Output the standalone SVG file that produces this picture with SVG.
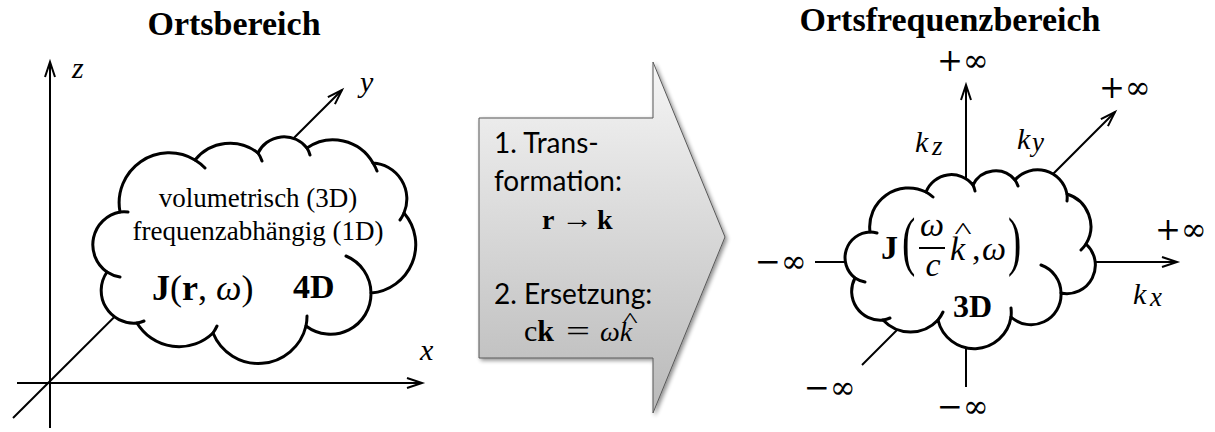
<svg xmlns="http://www.w3.org/2000/svg" width="1215" height="432" viewBox="0 0 1215 432">
<defs>
<style>
.title{font-family:"Liberation Serif",serif;font-weight:bold;font-size:34px;fill:#000}
.serif{font-family:"Liberation Serif",serif;fill:#000}
.it{font-style:italic}
.b{font-weight:bold}
.inf{font-family:"DejaVu Serif",serif;font-size:31px;fill:#000}
.cal{font-family:Lato,"Open Sans",sans-serif;font-size:28px;fill:#000}
.axis{stroke:#000;stroke-width:2;fill:none}
.cloud{fill:#fff;stroke:#000;stroke-width:3;stroke-linejoin:round}
.tail{fill:none;stroke:#000;stroke-width:3;stroke-linecap:round}
</style>
<marker id="ah" markerWidth="20" markerHeight="14" refX="16" refY="6" orient="auto" markerUnits="userSpaceOnUse">
<path d="M1,1 L16,6 L1,11" fill="none" stroke="#000" stroke-width="2"/>
</marker>
<linearGradient id="g" x1="0" y1="0" x2="0" y2="1">
<stop offset="0" stop-color="#f5f5f5"/>
<stop offset="1" stop-color="#b9b9b9"/>
</linearGradient>
<filter id="sh" x="-10%" y="-10%" width="130%" height="130%">
<feGaussianBlur in="SourceAlpha" stdDeviation="2"/>
<feOffset dx="2" dy="2"/>
<feComponentTransfer><feFuncA type="linear" slope="0.45"/></feComponentTransfer>
<feMerge><feMergeNode/><feMergeNode in="SourceGraphic"/></feMerge>
</filter>
</defs>
<rect width="1215" height="432" fill="#fff"/>

<g id="connectors">
<line class="axis" x1="50" y1="428" x2="50" y2="62" marker-end="url(#ah)"/>
<line class="axis" x1="17" y1="383" x2="422" y2="383" marker-end="url(#ah)"/>
<line class="axis" x1="13" y1="418" x2="342" y2="90" marker-end="url(#ah)"/>
<line class="axis" x1="966" y1="387" x2="966" y2="85" marker-end="url(#ah)"/>
<line class="axis" x1="815" y1="262" x2="1177" y2="262" marker-end="url(#ah)"/>
<line class="axis" x1="862" y1="365" x2="1115" y2="112" marker-end="url(#ah)"/>
</g>

<g id="title-left"><text class="title" x="234" y="35" text-anchor="middle">Ortsbereich</text></g>
<g id="title-right"><text class="title" x="950" y="31" text-anchor="middle">Ortsfrequenzbereich</text></g>

<g id="labels-left">
<text class="serif it" x="72" y="78" font-size="30">z</text>
<text class="serif it" x="360" y="92" font-size="30">y</text>
<text class="serif it" x="420" y="360" font-size="30">x</text>
</g>

<g id="cloud-left">
<path class="cloud" d="M120,212 A50,50 0 0 1 195,160 A45,45 0 0 1 258,153 A29,29 0 0 1 307,148 A46,46 0 0 1 373,163 A36,36 0 0 1 404,213 A48.5,48.5 0 0 1 371,293 A40.5,40.5 0 0 1 306,326 A49,49 0 0 1 213,333 A49,49 0 0 1 137,323 A32.6,32.6 0 0 1 107,272 A33.3,33.3 0 0 1 120,212 Z"/>
<path class="tail" d="M120,212 A33,33 0 0 1 128,212 M195,160 A50,50 0 0 1 205,168 M258,153 A30,30 0 0 1 262,161 M307,148 A29,29 0 0 1 310,155 M373,163 A46,46 0 0 1 377,171 M404,213 A36,36 0 0 1 400,220 M346,256 A40.5,40.5 0 0 1 371,293 M307,316 A49,49 0 0 1 306,326 M217,326 A49,49 0 0 1 213,333 M144,321 A32.6,32.6 0 0 1 137,323 M120,277 A33.3,33.3 0 0 1 107,272"/>
<text class="serif" x="258" y="207" font-size="27" text-anchor="middle">volumetrisch (3D)</text>
<text class="serif" x="258" y="240" font-size="27" text-anchor="middle">frequenzabhängig (1D)</text>
<text class="serif" x="152" y="300" font-size="36"><tspan font-weight="bold">J</tspan>(<tspan font-weight="bold">r</tspan>, <tspan font-style="italic">ω</tspan>)</text>
<text class="serif b" x="293" y="298" font-size="34">4D</text>
</g>

<g id="transform-arrow">
<polygon points="479,118 653,118 653,62 725,237 653,413 653,358 479,358" fill="url(#g)" stroke="#595959" stroke-width="1" filter="url(#sh)"/>
<text class="cal" x="494" y="153">1. Trans-</text>
<text class="cal" x="494" y="191">formation:</text>
<text class="serif b" x="542" y="229" font-size="28">r</text>
<text class="serif" x="561" y="228" font-size="28" textLength="32" lengthAdjust="spacingAndGlyphs">→</text>
<text class="serif b" x="597" y="229" font-size="28">k</text>
<text class="cal" x="494" y="304">2. Ersetzung:</text>
<text class="serif" x="524" y="341" font-size="30">c<tspan font-weight="bold">k</tspan></text>
<text class="serif" x="566" y="341" font-size="30" textLength="24" lengthAdjust="spacingAndGlyphs">=</text>
<text class="serif it" x="600" y="341" font-size="28">ωk</text>
<text class="serif" transform="translate(630,327) scale(1.35,0.9)" font-size="24" text-anchor="middle">^</text>
</g>

<g id="labels-right">
<text class="inf" x="963" y="71" text-anchor="middle">+∞</text>
<text class="inf" x="1125" y="98" text-anchor="middle">+∞</text>
<text class="inf" x="1181" y="240" text-anchor="middle">+∞</text>
<text class="inf" x="781" y="272" text-anchor="middle">−∞</text>
<text class="inf" x="830" y="398" text-anchor="middle">−∞</text>
<text class="inf" x="963" y="417" text-anchor="middle">−∞</text>
<text class="serif it" x="915" y="152" font-size="30">k</text>
<text class="serif it" x="932" y="155" font-size="27">z</text>
<text class="serif it" x="1017" y="149" font-size="30">k</text>
<text class="serif it" x="1032" y="151" font-size="27">y</text>
<text class="serif it" x="1133" y="304" font-size="30">k</text>
<text class="serif it" x="1150" y="306" font-size="27">x</text>
</g>

<g id="cloud-right">
<path class="cloud" d="M870,232 A39,39 0 0 1 926,192 A27.4,27.4 0 0 1 973,185 A25,25 0 0 1 1015,180 A30,30 0 0 1 1067,194 A34,34 0 0 1 1086,244 A28.5,28.5 0 0 1 1061,293 A30,30 0 0 1 1011,317 A37.2,37.2 0 0 1 938,320 A37.5,37.5 0 0 1 883,320 A28.7,28.7 0 0 1 855,278 A25.7,25.7 0 0 1 870,232 Z"/>
<path class="tail" d="M870,232 A25.7,25.7 0 0 1 877,233 M926,192 A39,39 0 0 1 933,197 M973,185 A27.4,27.4 0 0 1 975,191 M1015,180 A25,25 0 0 1 1018,186 M1067,194 A30,30 0 0 1 1067,201 M1086,244 A34,34 0 0 1 1081,250 M1041,265 A30,30 0 0 1 1061,293 M1011,308 A37.2,37.2 0 0 1 1011,317 M943,312 A37.5,37.5 0 0 1 938,320 M890,318 A28.7,28.7 0 0 1 883,320 M865,282 A25.7,25.7 0 0 1 855,278"/>
<text class="serif b" x="881" y="259" font-size="34">J</text>
<text class="serif" transform="translate(902,263) scale(1,1.62)" font-size="40">(</text>
<text class="serif it" x="932" y="236" font-size="34" text-anchor="middle">ω</text>
<line x1="919" y1="248" x2="945" y2="248" stroke="#000" stroke-width="2"/>
<text class="serif it" x="933" y="276" font-size="34" text-anchor="middle">c</text>
<text class="serif it" x="950" y="260" font-size="34">k</text>
<text class="serif" transform="translate(963,238) scale(1.4,0.9)" font-size="26" text-anchor="middle">^</text>
<text class="serif" x="972" y="260" font-size="34">,</text>
<text class="serif it" x="982" y="260" font-size="34">ω</text>
<text class="serif" transform="translate(1008,263) scale(1,1.62)" font-size="40">)</text>
<text class="serif b" x="953" y="317" font-size="32">3D</text>
</g>
</svg>
